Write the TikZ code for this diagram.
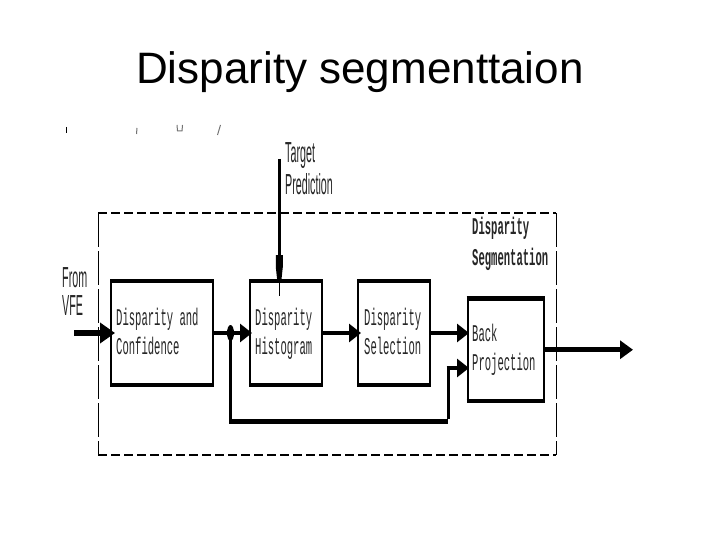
\documentclass[tikz,border=0pt]{standalone}
\usepackage{fontspec}
\usepackage{graphicx}
\setmainfont{Liberation Sans}
\newfontfamily\monof{Liberation Mono}
\usetikzlibrary{arrows.meta,shapes.geometric}
\newcommand{\monotxt}[1]{\scalebox{.44}[1]{\monof\fontsize{24}{24}\selectfont #1}}
\newcommand{\monobold}[1]{\scalebox{.44}[1]{\monof\bfseries\fontsize{24}{24}\selectfont #1}}
\newcommand{\narrowtxt}[1]{\scalebox{.37}[1]{\fontsize{29}{29}\selectfont #1}}
\tikzset{
  blockbox/.style={draw=black,line width=2pt,fill=white,inner sep=0pt,outer sep=0pt,anchor=north west},
  capline/.style={line width=4.5pt,line cap=butt},
  flow/.style={line width=4.4pt,-{Triangle[length=12pt,width=18pt]}},
  dashh/.style={line width=2pt,dash pattern=on 9pt off 4pt},
  dashv/.style={line width=1pt,dash pattern=on 34pt off 4pt},
  monolabel/.style={anchor=base west,inner sep=0pt,text=black!85},
  sanslabel/.style={anchor=base west,inner sep=0pt,text=black!85},
  speck/.style={line width=1pt,draw=black!55}
}
\begin{document}
\begin{tikzpicture}[x=1pt,y=-1pt]
\useasboundingbox (0,0) rectangle (720,540);
\fill[white] (0,0) rectangle (720,540);
\node[anchor=base,inner sep=0pt] (title) at (360,84) {\fontsize{44}{44}\selectfont Disparity segmenttaion};
% specks
\draw[speck,draw=black,line width=1.4pt] (66.5,127) -- (66.5,133);
\draw[speck] (137,128) -- (136.5,134);
\draw[speck] (177,125) -- (177.5,131) -- (182,131) -- (182.5,125);
\draw[speck] (220.5,125) -- (217.5,135);
% dashed frame
\coordinate (fnw) at (98,213);
\coordinate (fne) at (556,213);
\coordinate (fsw) at (98,455);
\coordinate (fse) at (556,455);
\draw[dashh] (fnw) -- (fne);
\draw[dashh] (fsw) -- (fse);
\draw[dashv] (fnw) -- (fsw);
\draw[dashv] (fne) -- (fse);
% blocks
\node[blockbox,minimum width=102pt,minimum height=104pt] (b1) at (111,281) {};
\node[blockbox,minimum width=72pt,minimum height=104pt] (b2) at (250,281) {};
\node[blockbox,minimum width=72pt,minimum height=104pt] (b3) at (358,281) {};
\node[blockbox,minimum width=76pt,minimum height=102.5pt] (b4) at (467.5,298.5) {};
\foreach \b in {b1,b2,b3,b4}{
  \draw[capline] ([xshift=-1pt]\b.north west) -- ([xshift=1pt]\b.north east);
  \draw[capline] ([xshift=-1pt]\b.south west) -- ([xshift=1pt]\b.south east);
}
% labels
\node[monolabel] (t1a) at (116,325) {\monotxt{Disparity and}};
\node[monolabel] (t1b) at (116,354) {\monotxt{Confidence}};
\node[monolabel] (t2a) at (255,325) {\monotxt{Disparity}};
\node[monolabel] (t2b) at (255,354) {\monotxt{Histogram}};
\node[monolabel] (t3a) at (364,325) {\monotxt{Disparity}};
\node[monolabel] (t3b) at (364,354) {\monotxt{Selection}};
\node[monolabel] (t4a) at (472,341) {\monotxt{Back}};
\node[monolabel] (t4b) at (472,370) {\monotxt{Projection}};
\node[monolabel] (t5a) at (472,234) {\monobold{Disparity}};
\node[monolabel] (t5b) at (472,265) {\monobold{Segmentation}};
\node[sanslabel] (t6a) at (285,163) {\narrowtxt{Target}};
\node[sanslabel] (t6b) at (285,195) {\narrowtxt{Prediction}};
\node[sanslabel] (t7a) at (62,287) {\narrowtxt{From}};
\node[sanslabel] (t7b) at (62,315) {\narrowtxt{VFE}};
% connectors
\coordinate (vfe) at (74,333);
\coordinate (tgt) at (279.3,159);
\coordinate (tgtb) at (279.3,255);
\coordinate (tgtc) at (279.3,267);
\coordinate (tgtd) at (279.3,281);
\coordinate (tgte) at (279.3,296);
\coordinate (out) at (633,349.75);
\node[ellipse,fill=black,minimum width=7pt,minimum height=16pt,inner sep=0pt] (junc) at (230.5,333) {};
\coordinate (bend1) at (230.5,421);
\coordinate (bend2) at (448,421);
\coordinate (bend3) at (448,368);
\draw[line width=5.5pt,-{Triangle[length=15pt,width=20pt]}] (vfe) -- ([xshift=4pt]b1.west);
\draw[flow] (b1.east) -- ([xshift=2pt]b2.west);
\draw[flow] (b2.east) -- ([xshift=3pt]b3.west);
\draw[flow] (b3.east) -- ([xshift=1.5pt]b4.west |- b3.east);
\draw[line width=5pt,-{Triangle[length=13pt,width=18pt]}] (b4.east) -- (out |- b4.east);
\draw[line width=3pt] (tgt) -- (tgtb);
\fill ([xshift=-3.5pt]tgtb) -- ([xshift=3.5pt]tgtb) -- ([xshift=3.5pt]tgtc) -- ([xshift=2pt]tgtd) -- ([xshift=-2pt]tgtd) -- ([xshift=-3.5pt]tgtc) -- cycle;
\draw[line width=1.3pt] (tgtd) -- (tgte);
\draw[line width=2.5pt] (junc.center) -- (bend1);
\draw[line width=5pt] ([xshift=-1.25pt]bend1) -- (bend2);
\draw[line width=3pt] ([yshift=2.5pt]bend2) -- ([yshift=-2.2pt]bend3);
\draw[line width=4.6pt,-{Triangle[length=12pt,width=18pt]}] ([xshift=-1.5pt]bend3) -- ([xshift=1.5pt]b4.west |- bend3);
\end{tikzpicture}
\end{document}
